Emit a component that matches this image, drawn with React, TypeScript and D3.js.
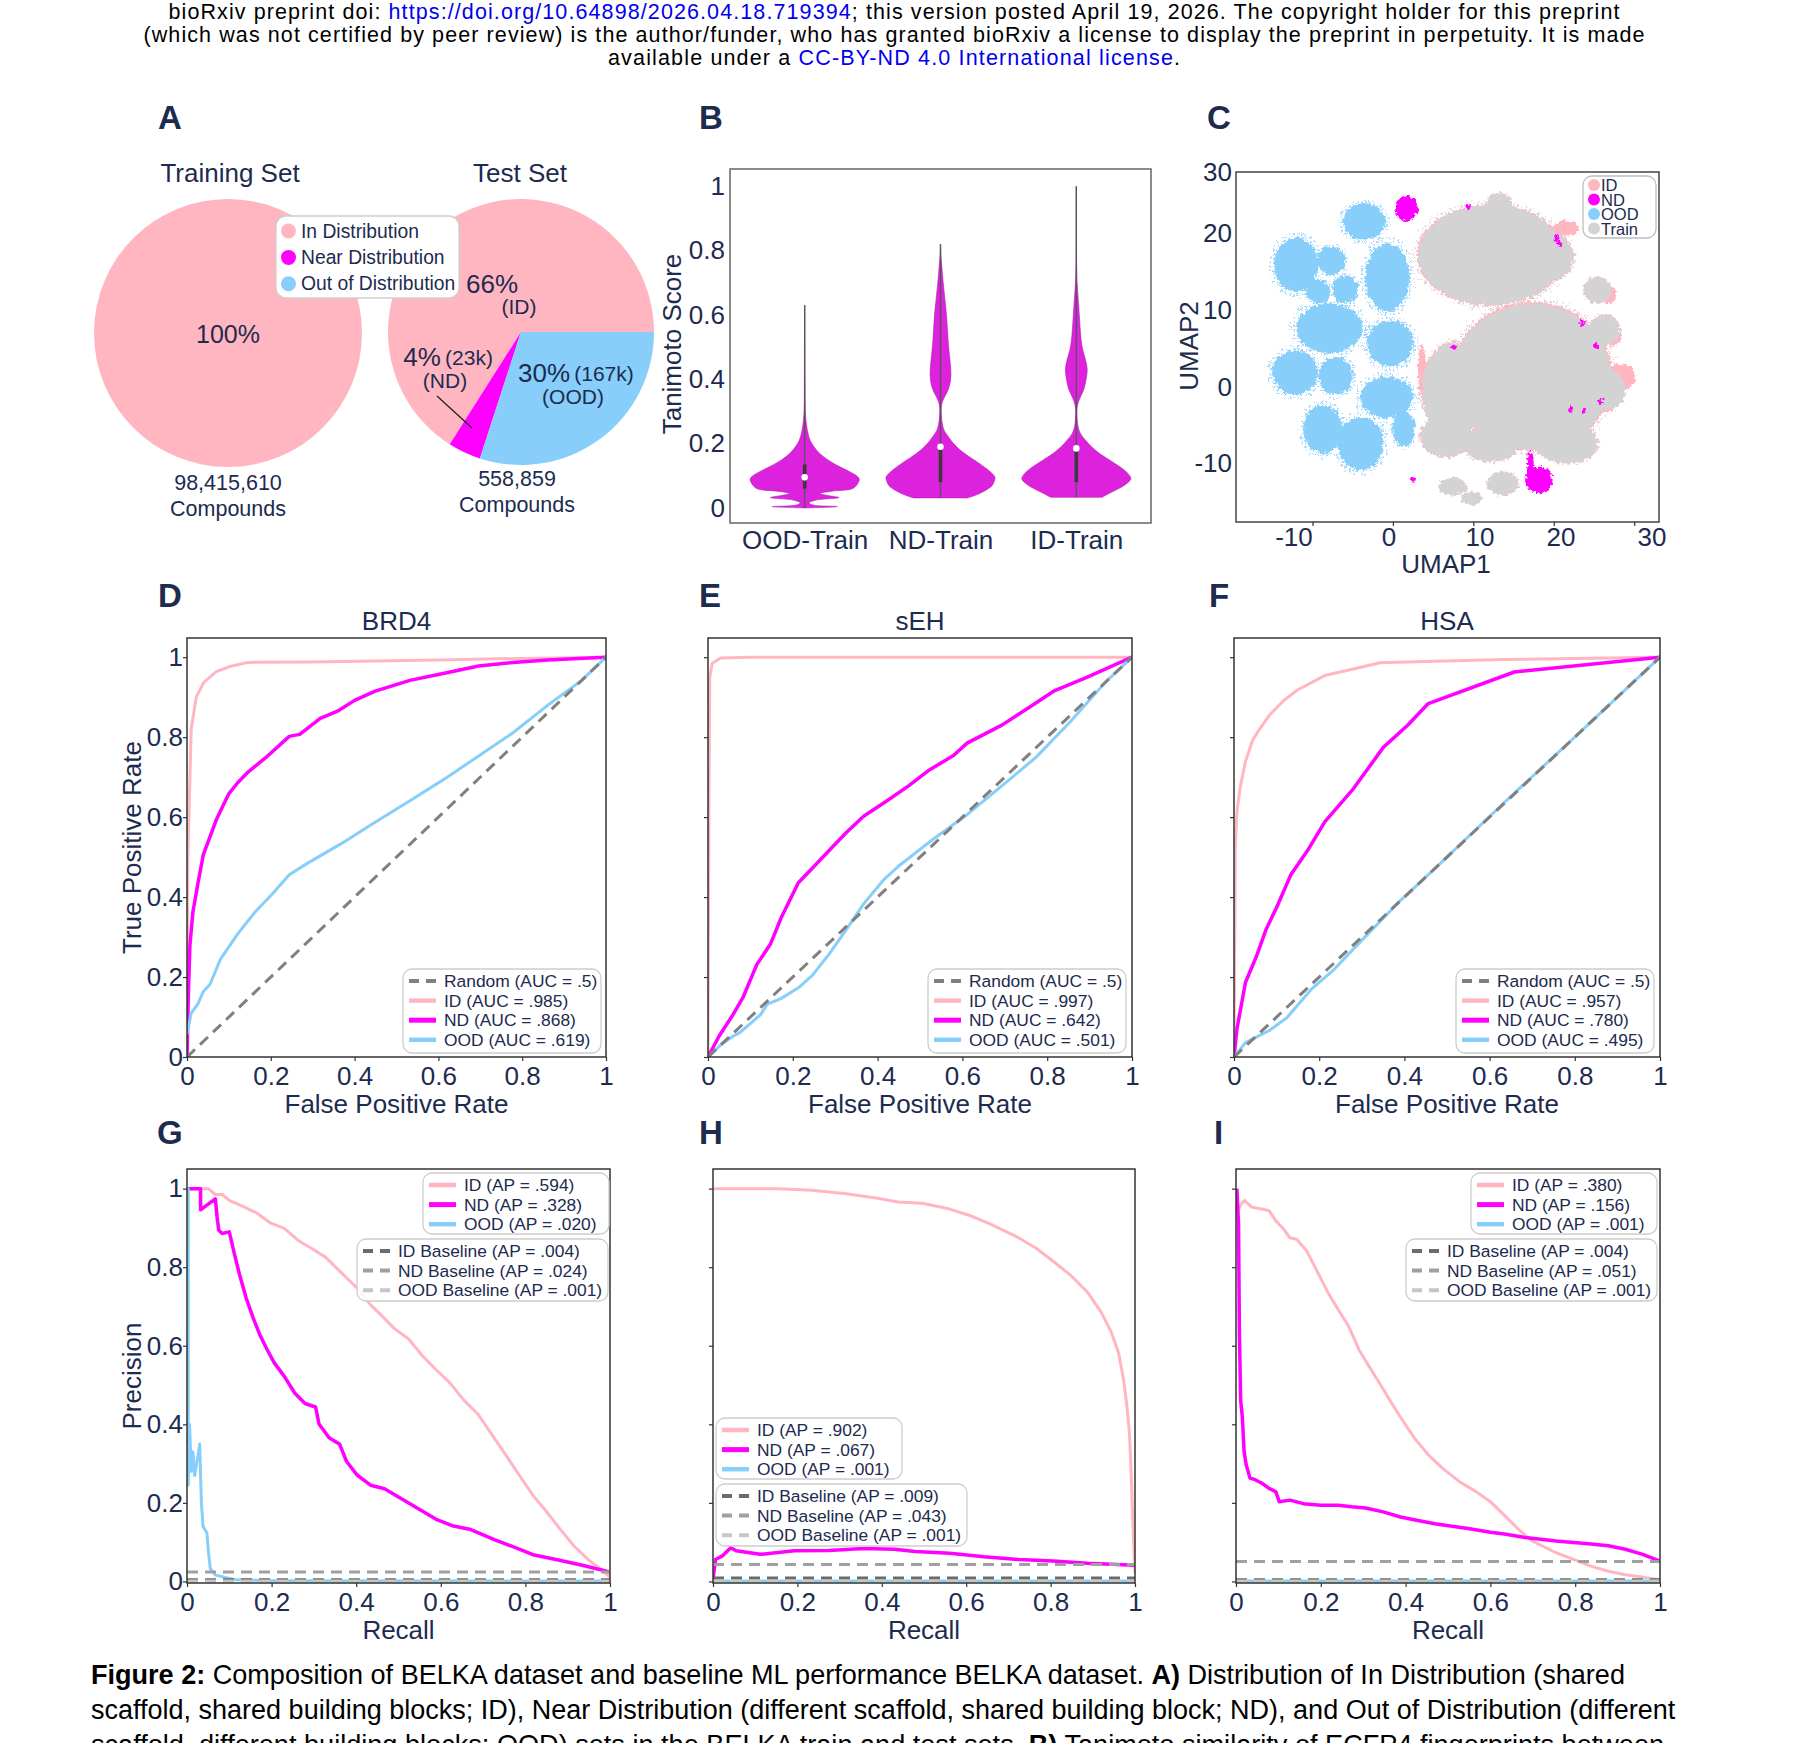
import React, { useEffect, useRef } from 'react';
import * as d3 from 'd3';

type Pt = [number, number];

const WIDTH = 1800;
const HEIGHT = 1743;
const FONT = "'Liberation Sans', Arial, Helvetica, sans-serif";
const NAVY = '#1d2b4f';
const ID_COLOR = '#ffb6c1';
const ND_COLOR = '#ff00ff';
const OOD_COLOR = '#87cefa';
const TRAIN_COLOR = '#d3d3d3';
const VIOLIN_COLOR = '#dc22dc';
const FRAME = '#333333';

// ---------- A: split composition ----------
const splitNames = ['In Distribution', 'Near Distribution', 'Out of Distribution'];
const splitShort = ['(ID)', '(ND)', '(OOD)'];
const splitColors = [ID_COLOR, ND_COLOR, OOD_COLOR];
const trainingShares = [100, 0, 0];
const testShares = [66, 4, 30];
const testCounts = ['', '(23k)', '(167k)'];
const trainingTotal = '98,415,610';
const testTotal = '558,859';

// ---------- B: Tanimoto similarity violins ----------
const violinCategories = ['OOD-Train', 'ND-Train', 'ID-Train'];
// [score, relative density]
const oodTrainDensity: Pt[] = [
  [0.0, 0.05], [0.004, 0.6], [0.009, 0.15], [0.016, 0.08], [0.024, 0.2], [0.032, 0.63],
  [0.038, 0.45], [0.045, 0.28], [0.052, 0.5], [0.06, 0.88], [0.075, 0.97], [0.09, 1.0],
  [0.1, 0.95], [0.115, 0.8], [0.13, 0.62], [0.15, 0.42], [0.17, 0.27], [0.19, 0.17],
  [0.21, 0.1], [0.24, 0.05], [0.27, 0.025], [0.3, 0.012], [0.4, 0.006], [0.63, 0.002],
];
const ndTrainDensity: Pt[] = [
  [0.031, 0.5], [0.04, 0.65], [0.05, 0.78], [0.06, 0.88], [0.07, 0.95], [0.085, 0.99],
  [0.095, 1.0], [0.11, 0.93], [0.125, 0.82], [0.14, 0.7], [0.16, 0.52], [0.18, 0.36],
  [0.2, 0.24], [0.22, 0.15], [0.24, 0.07], [0.26, 0.035], [0.29, 0.015], [0.32, 0.02],
  [0.34, 0.06], [0.36, 0.12], [0.38, 0.165], [0.41, 0.19], [0.44, 0.185], [0.48, 0.16],
  [0.52, 0.14], [0.56, 0.125], [0.6, 0.11], [0.65, 0.08], [0.7, 0.05], [0.75, 0.025],
  [0.78, 0.01], [0.82, 0.002],
];
const idTrainDensity: Pt[] = [
  [0.033, 0.47], [0.045, 0.6], [0.06, 0.78], [0.075, 0.92], [0.09, 1.0], [0.1, 0.98],
  [0.115, 0.9], [0.13, 0.78], [0.15, 0.6], [0.17, 0.42], [0.19, 0.28], [0.21, 0.17],
  [0.23, 0.08], [0.25, 0.035], [0.28, 0.015], [0.31, 0.015], [0.33, 0.04], [0.35, 0.09],
  [0.37, 0.14], [0.4, 0.18], [0.43, 0.2], [0.46, 0.17], [0.49, 0.12], [0.52, 0.09],
  [0.56, 0.07], [0.6, 0.055], [0.65, 0.035], [0.7, 0.015], [0.75, 0.006], [0.85, 0.003],
  [1.0, 0.001],
];
const violinDensities = [oodTrainDensity, ndTrainDensity, idTrainDensity];
const violinMin = [0, 0.031, 0.033];
const violinMax = [0.63, 0.82, 1.0];
const violinQ1 = [0.06, 0.08, 0.08];
const violinQ3 = [0.135, 0.19, 0.185];
const violinMedian = [0.095, 0.19, 0.185];
const violinTicks = [0, 0.2, 0.4, 0.6, 0.8, 1];

// ---------- C: UMAP clusters  [umap1, umap2, spread1, spread2] ----------
const umapOod: number[][] = [
  [-3.6, 21.44, 2.66, 2.38], [-12.04, 15.8, 2.78, 3.55], [-7.67, 16.37, 1.8, 1.82],
  [-9.26, 12.34, 1.5, 1.52], [-5.91, 12.64, 1.63, 1.82], [-0.69, 14.2, 2.78, 4.42],
  [-7.89, 7.57, 4.15, 3.25], [-0.35, 5.62, 2.87, 3.03], [-12.17, 1.8, 2.87, 2.9],
  [-7.11, 1.37, 2.14, 2.47], [-0.78, -1.4, 3.3, 2.69], [-8.74, -5.57, 2.44, 3.12],
  [-4.03, -7.39, 2.87, 3.47], [1.32, -5.52, 1.41, 2.25],
];
const umapTrain: number[][] = [
  [12.16, 17.1, 8.99, 6.5], [13.23, 23.82, 1.5, 1.3], [17.3, 1.28, 9.85, 9.54],
  [7.45, -0.45, 3.85, 6.07], [6.59, -6.52, 3.21, 2.6], [12.16, -7.39, 3.43, 2.38],
  [21.58, -7.39, 3.85, 2.6], [7.45, -13.02, 1.71, 1.08], [13.66, -12.59, 1.93, 1.52],
  [9.8, -14.54, 1.28, 0.87], [26.29, 7.35, 1.93, 1.95], [26.72, -0.45, 2.14, 2.6],
  [25.43, 12.55, 1.71, 1.73], [19.87, 16.89, 2.57, 3.03],
];
const umapId: number[][] = [
  [28.43, 1.28, 1.71, 1.73], [27.15, 6.48, 1.28, 1.3], [26.72, -2.19, 1.28, 1.08],
  [26.72, 11.9, 1.07, 1.08], [21.5, 20.6, 1.6, 1.0], [3.6, 2.0, 0.5, 3.5],
];
const umapNd: number[][] = [
  [1.67, 23.17, 1.41, 1.65], [18.15, -12.15, 1.71, 1.73], [17.08, -9.77, 0.43, 1.3],
];
const umapNdSpecks: Pt[] = [
  [20.29, 19.27], [20.72, 18.62], [23.51, 8.22], [25.22, 5.4], [7.66, 5.18],
  [22.01, -3.05], [25.86, -1.97], [2.52, -12.15], [9.37, 23.39], [23.72, -3.27],
];
const umapXTicks = [-10, 0, 10, 20, 30];
const umapYTicks = [30, 20, 10, 0, -10];
const umapLegend = ['ID', 'ND', 'OOD', 'Train'];

// ---------- D-F: ROC curves [FPR, TPR] ----------
const rateTicks = [0, 0.2, 0.4, 0.6, 0.8, 1];
const randomRoc: Pt[] = [[0, 0], [1, 1]];
const brd4RocId: Pt[] = [
  [0, 0], [0.002, 0.5], [0.01, 0.82], [0.022, 0.9], [0.04, 0.937], [0.07, 0.964], [0.1, 0.976],
  [0.145, 0.987], [0.3, 0.988], [0.6, 0.993], [0.8, 0.997], [1, 1],
];
const brd4RocNd: Pt[] = [
  [0, 0], [0.003, 0.146], [0.007, 0.28], [0.014, 0.362], [0.026, 0.434], [0.039, 0.506],
  [0.055, 0.551], [0.071, 0.596], [0.1, 0.659], [0.121, 0.686], [0.145, 0.712], [0.187, 0.748],
  [0.244, 0.802], [0.269, 0.807], [0.318, 0.847], [0.359, 0.865], [0.4, 0.892], [0.449, 0.915],
  [0.532, 0.942], [0.614, 0.96], [0.696, 0.978], [0.778, 0.987], [0.86, 0.993], [1, 1],
];
const brd4RocOod: Pt[] = [
  [0, 0.057], [0.01, 0.11], [0.026, 0.133], [0.039, 0.164], [0.055, 0.182], [0.08, 0.245],
  [0.121, 0.308], [0.162, 0.362], [0.203, 0.407], [0.244, 0.456], [0.285, 0.483], [0.367, 0.533],
  [0.449, 0.587], [0.532, 0.641], [0.614, 0.695], [0.696, 0.753], [0.778, 0.811], [0.86, 0.879],
  [0.942, 0.942], [1, 1],
];
const sehRocId: Pt[] = [
  [0, 0], [0.002, 0.6], [0.004, 0.95], [0.01, 0.985], [0.03, 0.998], [0.1, 1], [1, 1],
];
const sehRocNd: Pt[] = [
  [0, 0], [0.026, 0.052], [0.059, 0.106], [0.083, 0.15], [0.115, 0.231], [0.148, 0.284],
  [0.172, 0.347], [0.213, 0.436], [0.246, 0.472], [0.294, 0.526], [0.327, 0.562], [0.367, 0.602],
  [0.424, 0.642], [0.473, 0.678], [0.522, 0.718], [0.579, 0.754], [0.611, 0.785], [0.693, 0.83],
  [0.758, 0.875], [0.815, 0.915], [0.896, 0.951], [1, 1],
];
const sehRocOod: Pt[] = [
  [0, 0], [0.034, 0.034], [0.059, 0.052], [0.075, 0.061], [0.099, 0.083], [0.124, 0.106],
  [0.14, 0.132], [0.172, 0.146], [0.213, 0.173], [0.246, 0.204], [0.286, 0.258], [0.327, 0.32],
  [0.367, 0.383], [0.416, 0.445], [0.449, 0.477], [0.53, 0.544], [0.611, 0.606], [0.693, 0.678],
  [0.774, 0.75], [0.855, 0.839], [0.937, 0.937], [1, 1],
];
const hsaRocId: Pt[] = [
  [0, 0], [0.002, 0.33], [0.003, 0.526], [0.007, 0.615], [0.015, 0.677], [0.027, 0.74],
  [0.044, 0.793], [0.06, 0.82], [0.084, 0.856], [0.116, 0.891], [0.149, 0.918], [0.213, 0.954],
  [0.27, 0.968], [0.343, 0.986], [0.472, 0.99], [0.634, 0.994], [1, 1],
];
const hsaRocNd: Pt[] = [
  [0, 0], [0.007, 0.071], [0.027, 0.187], [0.052, 0.25], [0.076, 0.321], [0.1, 0.374],
  [0.133, 0.455], [0.173, 0.517], [0.213, 0.588], [0.278, 0.668], [0.351, 0.775], [0.407, 0.829],
  [0.456, 0.884], [0.658, 0.963], [1, 1],
];
const hsaRocOod: Pt[] = [
  [0, 0], [0.027, 0.036], [0.084, 0.067], [0.124, 0.098], [0.181, 0.169], [0.23, 0.214],
  [0.31, 0.303], [0.391, 0.392], [0.472, 0.472], [0.634, 0.636], [0.8, 0.8], [1, 1],
];
const brd4Auc = ['.5', '.985', '.868', '.619'];
const sehAuc = ['.5', '.997', '.642', '.501'];
const hsaAuc = ['.5', '.957', '.780', '.495'];

// ---------- G-I: precision-recall curves [recall, precision] ----------
const brd4PrId: Pt[] = [
  [0, 1], [0.05, 1], [0.067, 0.985], [0.083, 0.985], [0.1, 0.97], [0.132, 0.955], [0.165, 0.938],
  [0.198, 0.912], [0.23, 0.899], [0.263, 0.868], [0.296, 0.847], [0.328, 0.825], [0.361, 0.79],
  [0.402, 0.747], [0.434, 0.704], [0.459, 0.678], [0.491, 0.643], [0.524, 0.617], [0.557, 0.574],
  [0.589, 0.539], [0.622, 0.505], [0.655, 0.461], [0.687, 0.427], [0.72, 0.375], [0.753, 0.323],
  [0.785, 0.271], [0.818, 0.219], [0.851, 0.176], [0.883, 0.132], [0.916, 0.089], [0.949, 0.055],
  [0.981, 0.029], [1, 0.011],
];
const brd4PrNd: Pt[] = [
  [0, 1], [0.032, 1], [0.032, 0.946], [0.067, 0.974], [0.071, 0.929], [0.075, 0.894],
  [0.083, 0.886], [0.1, 0.89], [0.112, 0.834], [0.124, 0.782], [0.14, 0.721], [0.157, 0.669],
  [0.173, 0.626], [0.189, 0.591], [0.206, 0.557], [0.23, 0.522], [0.255, 0.479], [0.279, 0.453],
  [0.304, 0.444], [0.312, 0.401], [0.336, 0.366], [0.361, 0.349], [0.377, 0.306], [0.402, 0.271],
  [0.434, 0.245], [0.467, 0.236], [0.508, 0.21], [0.549, 0.184], [0.589, 0.158], [0.63, 0.141],
  [0.671, 0.132], [0.728, 0.106], [0.769, 0.089], [0.818, 0.068], [0.875, 0.055], [0.932, 0.042],
  [1, 0.024],
];
const brd4PrOod: Pt[] = [
  [0, 1], [0.003, 1], [0.003, 0.245], [0.006, 0.4], [0.01, 0.28], [0.014, 0.33], [0.018, 0.27],
  [0.026, 0.32], [0.03, 0.35], [0.034, 0.2], [0.038, 0.14], [0.047, 0.124], [0.051, 0.072],
  [0.055, 0.033], [0.067, 0.016], [0.116, 0.004], [0.2, 0.002], [1, 0.001],
];
const sehPrId: Pt[] = [
  [0, 1], [0.153, 1], [0.234, 0.996], [0.316, 0.987], [0.398, 0.974], [0.438, 0.966],
  [0.496, 0.963], [0.561, 0.948], [0.61, 0.931], [0.659, 0.909], [0.724, 0.875], [0.765, 0.849],
  [0.806, 0.815], [0.847, 0.78], [0.887, 0.737], [0.92, 0.685], [0.944, 0.634], [0.961, 0.582],
  [0.973, 0.513], [0.981, 0.444], [0.987, 0.375], [0.992, 0.246], [0.996, 0.116], [1, 0.02],
];
const sehPrNd: Pt[] = [
  [0, 0.004], [0.006, 0.056], [0.022, 0.065], [0.042, 0.086], [0.055, 0.078], [0.112, 0.069],
  [0.193, 0.078], [0.275, 0.079], [0.357, 0.084], [0.43, 0.082], [0.479, 0.076], [0.561, 0.072],
  [0.642, 0.063], [0.724, 0.056], [0.806, 0.052], [0.887, 0.046], [1, 0.041],
];
const sehPrOod: Pt[] = [[0, 0.001], [1, 0.001]];
const hsaPrId: Pt[] = [
  [0, 0.93], [0.002, 0.935], [0.012, 0.961], [0.02, 0.97], [0.037, 0.953], [0.061, 0.948],
  [0.078, 0.944], [0.094, 0.918], [0.11, 0.9], [0.127, 0.875], [0.143, 0.871], [0.167, 0.841],
  [0.192, 0.788], [0.216, 0.737], [0.241, 0.692], [0.265, 0.651], [0.29, 0.59], [0.314, 0.547],
  [0.339, 0.504], [0.363, 0.461], [0.388, 0.418], [0.42, 0.366], [0.453, 0.323], [0.486, 0.289],
  [0.527, 0.254], [0.567, 0.228], [0.6, 0.203], [0.633, 0.168], [0.665, 0.134], [0.698, 0.103],
  [0.755, 0.073], [0.796, 0.056], [0.837, 0.039], [0.878, 0.026], [0.918, 0.017], [0.959, 0.011],
  [1, 0.004],
];
const hsaPrNd: Pt[] = [
  [0.002, 1], [0.006, 0.91], [0.008, 0.634], [0.011, 0.461], [0.015, 0.418], [0.019, 0.332],
  [0.024, 0.297], [0.033, 0.263], [0.045, 0.259], [0.061, 0.25], [0.078, 0.237], [0.094, 0.228],
  [0.102, 0.203], [0.127, 0.207], [0.159, 0.198], [0.2, 0.194], [0.241, 0.194], [0.273, 0.19],
  [0.306, 0.187], [0.347, 0.177], [0.388, 0.164], [0.429, 0.155], [0.469, 0.147], [0.551, 0.134],
  [0.6, 0.125], [0.633, 0.121], [0.682, 0.112], [0.755, 0.103], [0.837, 0.095], [0.878, 0.091],
  [0.918, 0.082], [0.959, 0.069], [1, 0.052],
];
const hsaPrOod: Pt[] = [[0, 0.001], [1, 0.001]];
const brd4Ap = ['.594', '.328', '.020'];
const sehAp = ['.902', '.067', '.001'];
const hsaAp = ['.380', '.156', '.001'];
const brd4Baselines = [0.004, 0.024, 0.001];
const sehBaselines = [0.009, 0.043, 0.001];
const hsaBaselines = [0.004, 0.051, 0.001];
const brd4BaselineLabels = ['.004', '.024', '.001'];
const sehBaselineLabels = ['.009', '.043', '.001'];
const hsaBaselineLabels = ['.004', '.051', '.001'];
const baselineColors = ['#6b6b6b', '#a0a0a0', '#c6c6c6'];

type Sel = d3.Selection<any, unknown, null, undefined>;

function addText(sel: Sel, x: number, y: number, str: string, size: number, anchor = 'middle', fill = NAVY) {
  return sel
    .append('text')
    .attr('x', x)
    .attr('y', y)
    .attr('font-family', FONT)
    .attr('font-size', size)
    .attr('fill', fill)
    .attr('text-anchor', anchor)
    .attr('dominant-baseline', 'central')
    .text(str);
}

// grow the font until the line is `target` wide (capped at maxSize), then spread the rest
function fitWidth(t: Sel, target: number, maxSize = 100) {
  const node = t.node() as SVGTextElement;
  const len = node.getComputedTextLength();
  if (len <= 0) return;
  const size = Math.min(maxSize, (+t.attr('font-size') * target) / len);
  t.attr('font-size', size);
  if (size === maxSize) t.attr('textLength', target).attr('lengthAdjust', 'spacing');
}

function styleAxis(g: Sel, size = 26) {
  g.attr('font-family', FONT).attr('font-size', size);
  g.select('.domain').remove();
  g.selectAll('.tick line').attr('stroke', FRAME).attr('stroke-width', 1.2);
  g.selectAll('.tick text').attr('fill', NAVY);
}

const fmtRate = (v: number) => (v === 0 ? '0' : v === 1 ? '1' : d3.format('.1f')(v));

interface LegendEntry {
  label: string;
  color: string;
  width: number;
  dash?: string;
}

function drawLegend(svg: Sel, x: number, y: number, w: number, h: number, entries: LegendEntry[]) {
  const lg = svg.append('g').attr('transform', `translate(${x},${y})`);
  lg.append('rect')
    .attr('width', w)
    .attr('height', h)
    .attr('rx', 9)
    .attr('fill', '#fff')
    .attr('fill-opacity', 0.85)
    .attr('stroke', '#cdcdcd')
    .attr('stroke-width', 1.3);
  entries.forEach((e, i) => {
    const cy = 12 + i * 19.6;
    lg.append('line')
      .attr('x1', 6)
      .attr('x2', 33)
      .attr('y1', cy)
      .attr('y2', cy)
      .attr('stroke', e.color)
      .attr('stroke-width', e.width)
      .attr('stroke-dasharray', e.dash ?? null);
    addText(lg, 41, cy, e.label, 17.4, 'start');
  });
}

interface CurveSpec {
  data: Pt[];
  color: string;
  width: number;
  dash?: string;
}

interface LegendSpec {
  x: number;
  y: number;
  w: number;
  h: number;
  entries: LegendEntry[];
}

interface PanelSpec {
  id: string;
  x0: number;
  x1: number;
  y0: number;
  y1: number;
  yDomain: [number, number];
  title?: string;
  xTitle: string;
  yTitle?: string;
  curves: CurveSpec[];
  baselines?: number[];
  legends: LegendSpec[];
}

function drawCurvePanel(svg: Sel, p: PanelSpec) {
  const x = d3.scaleLinear().domain([0, 1]).range([p.x0, p.x1]);
  const y = d3.scaleLinear().domain(p.yDomain).range([p.y1, p.y0]);

  svg.append('clipPath').attr('id', `clip-${p.id}`)
    .append('rect').attr('x', p.x0).attr('y', p.y0).attr('width', p.x1 - p.x0).attr('height', p.y1 - p.y0);

  const plot = svg.append('g').attr('clip-path', `url(#clip-${p.id})`);
  const line = d3.line<Pt>().x((d) => x(d[0])).y((d) => y(d[1]));

  p.curves.forEach((c) => {
    plot.append('path')
      .datum(c.data)
      .attr('fill', 'none')
      .attr('stroke', c.color)
      .attr('stroke-width', c.width)
      .attr('stroke-linejoin', 'round')
      .attr('stroke-dasharray', c.dash ?? null)
      .attr('d', line);
  });

  (p.baselines ?? []).forEach((b, i) => {
    plot.append('path')
      .datum([[0, b], [1, b]] as Pt[])
      .attr('fill', 'none')
      .attr('stroke', baselineColors[i])
      .attr('stroke-width', 3)
      .attr('stroke-dasharray', '11,7')
      .attr('d', line);
  });

  svg.append('rect')
    .attr('x', p.x0).attr('y', p.y0).attr('width', p.x1 - p.x0).attr('height', p.y1 - p.y0)
    .attr('fill', 'none').attr('stroke', FRAME).attr('stroke-width', 1.5);

  const gx = svg.append('g').attr('transform', `translate(0,${p.y1})`)
    .call(d3.axisBottom(x).tickValues(rateTicks).tickFormat((d) => fmtRate(+d)).tickSizeInner(4).tickSizeOuter(0).tickPadding(6));
  styleAxis(gx);

  const gy = svg.append('g').attr('transform', `translate(${p.x0},0)`)
    .call(d3.axisLeft(y).tickValues(rateTicks).tickFormat((d) => fmtRate(+d)).tickSizeInner(4).tickSizeOuter(0).tickPadding(0));
  styleAxis(gy);
  // only the left-most panels of each row carry y tick labels
  if (!p.yTitle) gy.selectAll('.tick text').remove();

  const cx = (p.x0 + p.x1) / 2;
  if (p.title) addText(svg, cx, p.y0 - 17, p.title, 26);
  addText(svg, cx, p.y1 + 47, p.xTitle, 26);
  if (p.yTitle) {
    addText(svg, 0, 0, p.yTitle, 26)
      .attr('transform', `translate(132,${(p.y0 + p.y1) / 2}) rotate(-90)`);
  }

  p.legends.forEach((l) => drawLegend(svg, l.x, l.y, l.w, l.h, l.entries));
}

function rocPanel(id: string, x0: number, x1: number, title: string, yTitle: string | undefined,
  curves: Pt[][], auc: string[], legendX: number): PanelSpec {
  const [idC, ndC, oodC] = curves;
  return {
    id, x0, x1, y0: 638, y1: 1057, yDomain: [0, 1.048], title, xTitle: 'False Positive Rate', yTitle,
    curves: [
      { data: idC, color: ID_COLOR, width: 3 },
      { data: ndC, color: ND_COLOR, width: 3.5 },
      { data: oodC, color: OOD_COLOR, width: 3 },
      { data: randomRoc, color: '#808080', width: 3, dash: '11,7' },
    ],
    legends: [{
      x: legendX, y: 969, w: 198, h: 84,
      entries: [
        { label: `Random (AUC = ${auc[0]})`, color: '#808080', width: 4, dash: '10,7' },
        { label: `ID (AUC = ${auc[1]})`, color: ID_COLOR, width: 4.5 },
        { label: `ND (AUC = ${auc[2]})`, color: ND_COLOR, width: 5 },
        { label: `OOD (AUC = ${auc[3]})`, color: OOD_COLOR, width: 4.5 },
      ],
    }],
  };
}

function prPanel(id: string, x0: number, x1: number, yTitle: string | undefined, curves: Pt[][],
  ap: string[], baselines: number[], baseLabels: string[], top: [number, number], bottom: [number, number]): PanelSpec {
  const [idC, ndC, oodC] = curves;
  return {
    id, x0, x1, y0: 1169, y1: 1583, yDomain: [-0.004, 1.05], xTitle: 'Recall', yTitle,
    curves: [
      { data: idC, color: ID_COLOR, width: 3 },
      { data: ndC, color: ND_COLOR, width: 3.5 },
      { data: oodC, color: OOD_COLOR, width: 3 },
    ],
    baselines,
    legends: [
      {
        x: top[0], y: top[1], w: 186, h: 61,
        entries: [
          { label: `ID (AP = ${ap[0]})`, color: ID_COLOR, width: 4.5 },
          { label: `ND (AP = ${ap[1]})`, color: ND_COLOR, width: 5 },
          { label: `OOD (AP = ${ap[2]})`, color: OOD_COLOR, width: 4.5 },
        ],
      },
      {
        x: bottom[0], y: bottom[1], w: 251, h: 62,
        entries: baselineColors.map((c, i) => ({
          label: `${['ID', 'ND', 'OOD'][i]} Baseline (AP = ${baseLabels[i]})`,
          color: c,
          width: 4,
          dash: '10,7',
        })),
      },
    ],
  };
}

function drawHeader(svg: Sel) {
  const lines: { parts: [string, boolean][]; y: number; len: number }[] = [
    {
      parts: [
        ['bioRxiv preprint doi: ', false],
        ['https://doi.org/10.64898/2026.04.18.719394', true],
        ['; this version posted April 19, 2026. The copyright holder for this preprint', false],
      ],
      y: 19, len: 1451,
    },
    {
      parts: [['(which was not certified by peer review) is the author/funder, who has granted bioRxiv a license to display the preprint in perpetuity. It is made', false]],
      y: 42, len: 1501,
    },
    {
      parts: [['available under a ', false], ['CC-BY-ND 4.0 International license', true], ['.', false]],
      y: 65, len: 572,
    },
  ];
  lines.forEach((l) => {
    const t = svg.append('text')
      .attr('x', 894).attr('y', l.y)
      .attr('text-anchor', 'middle')
      .attr('font-family', FONT).attr('font-size', 20);
    l.parts.forEach(([s, link]) => t.append('tspan').attr('fill', link ? '#0000ee' : '#000').text(s));
    fitWidth(t, l.len, 21.5);
  });
}

function drawCaption(svg: Sel) {
  const lines: { parts: [string, boolean][]; y: number; len: number }[] = [
    {
      parts: [
        ['Figure 2:', true],
        [' Composition of BELKA dataset and baseline ML performance BELKA dataset. ', false],
        ['A)', true],
        [' Distribution of In Distribution (shared', false],
      ],
      y: 1684, len: 1535,
    },
    {
      parts: [['scaffold, shared building blocks; ID), Near Distribution (different scaffold, shared building block; ND), and Out of Distribution (different', false]],
      y: 1719, len: 1585,
    },
    {
      parts: [
        ['scaffold, different building blocks; OOD) sets in the BELKA train and test sets. ', false],
        ['B)', true],
        [' Tanimoto similarity of ECFP4 fingerprints between', false],
      ],
      y: 1754, len: 1574,
    },
  ];
  lines.forEach((l) => {
    const t = svg.append('text')
      .attr('x', 91).attr('y', l.y)
      .attr('font-family', FONT).attr('font-size', 24).attr('fill', '#000');
    l.parts.forEach(([s, bold]) => t.append('tspan').attr('font-weight', bold ? 'bold' : 'normal').text(s));
    fitWidth(t, l.len);
  });
}

function drawPies(svg: Sel) {
  const pie = d3.pie<number>().sort(null).startAngle(Math.PI / 2).endAngle(Math.PI / 2 - 2 * Math.PI);
  const specs = [
    { cx: 228, cy: 333, r: 134, values: trainingShares },
    { cx: 521, cy: 332, r: 133, values: testShares },
  ];
  specs.forEach((s) => {
    const arc = d3.arc<d3.PieArcDatum<number>>().innerRadius(0).outerRadius(s.r);
    const g = svg.append('g').attr('transform', `translate(${s.cx},${s.cy})`);
    g.selectAll('path')
      .data(pie(s.values).filter((d) => d.value > 0))
      .enter()
      .append('path')
      .attr('d', arc)
      .attr('fill', (d) => splitColors[d.index]);
  });

  addText(svg, 230, 173, 'Training Set', 26);
  addText(svg, 520, 173, 'Test Set', 26);
  addText(svg, 228, 334, `${trainingShares[0]}%`, 25);

  // test-set slice annotations
  addText(svg, 492, 284, `${testShares[0]}%`, 26);
  addText(svg, 519, 306, splitShort[0], 21);
  addText(svg, 422, 357, `${testShares[1]}%`, 26);
  addText(svg, 469, 357, testCounts[1], 21);
  addText(svg, 445, 380, splitShort[1], 21);
  addText(svg, 544, 373, `${testShares[2]}%`, 26);
  addText(svg, 604, 373, testCounts[2], 21);
  addText(svg, 573, 396, splitShort[2], 21);
  svg.append('line').attr('x1', 437).attr('y1', 396).attr('x2', 472).attr('y2', 428)
    .attr('stroke', '#1a1a1a').attr('stroke-width', 1.2);

  addText(svg, 228, 483, trainingTotal, 21.5);
  addText(svg, 228, 509, 'Compounds', 21.5);
  addText(svg, 517, 479, testTotal, 21.5);
  addText(svg, 517, 505, 'Compounds', 21.5);

  const lg = svg.append('g').attr('transform', 'translate(276,216)');
  lg.append('rect').attr('width', 183).attr('height', 82).attr('rx', 10)
    .attr('fill', '#fff').attr('stroke', '#cfcfcf').attr('stroke-width', 1.3);
  splitNames.forEach((n, i) => {
    const cy = 15 + i * 26.4;
    lg.append('circle').attr('cx', 12.5).attr('cy', cy).attr('r', 7.5).attr('fill', splitColors[i]);
    addText(lg, 25, cy, n, 19.3, 'start');
  });
}

function drawViolins(svg: Sel) {
  const x0 = 730, x1 = 1151, y0 = 169, y1 = 523;
  const x = d3.scalePoint<string>().domain(violinCategories).range([x0, x1]).padding(0.55);
  const y = d3.scaleLinear().domain([-0.047, 1.054]).range([y1, y0]);
  const w = d3.scaleLinear().domain([0, 1]).range([0, 54.5]);

  violinCategories.forEach((cat, i) => {
    const cx = x(cat) as number;
    const area = d3.area<Pt>()
      .y((d) => y(d[0]))
      .x0((d) => cx - w(d[1]))
      .x1((d) => cx + w(d[1]))
      .curve(d3.curveCatmullRom.alpha(0.5));
    svg.append('path').datum(violinDensities[i]).attr('d', area)
      .attr('fill', VIOLIN_COLOR).attr('stroke', '#b01cb0').attr('stroke-width', 0.6);
    svg.append('line').attr('x1', cx).attr('x2', cx)
      .attr('y1', y(violinMin[i])).attr('y2', y(violinMax[i]))
      .attr('stroke', '#555').attr('stroke-width', 1.3);
    svg.append('line').attr('x1', cx).attr('x2', cx)
      .attr('y1', y(violinQ1[i])).attr('y2', y(violinQ3[i]))
      .attr('stroke', '#3a3a3a').attr('stroke-width', 3.6);
    svg.append('circle').attr('cx', cx).attr('cy', y(violinMedian[i])).attr('r', 3.3).attr('fill', '#fff');
  });

  svg.append('rect').attr('x', x0).attr('y', y0).attr('width', x1 - x0).attr('height', y1 - y0)
    .attr('fill', 'none').attr('stroke', '#666').attr('stroke-width', 1.5);

  const gy = svg.append('g').attr('transform', `translate(${x0},0)`)
    .call(d3.axisLeft(y).tickValues(violinTicks).tickFormat((d) => fmtRate(+d)).tickSize(0).tickPadding(5));
  styleAxis(gy);
  const gx = svg.append('g').attr('transform', `translate(0,${y1})`)
    .call(d3.axisBottom(x).tickSize(0).tickPadding(8));
  styleAxis(gx);

  addText(svg, 0, 0, 'Tanimoto Score', 26).attr('transform', 'translate(672,344) rotate(-90)');
}

function drawUmap(svg: Sel) {
  const x0 = 1236, x1 = 1659, y0 = 172, y1 = 522;
  const x = d3.scaleLinear().domain([-10, 30]).range([1312.5, 1634.2]);
  const y = d3.scaleLinear().domain([20, -10]).range([232.7, 463.4]);
  // tick labels sit slightly off their tick marks
  const labelX = d3.scaleLinear().domain(umapXTicks).range([1294, 1389, 1480, 1561, 1652]);
  const kx = x(1) - x(0);
  const ky = y(0) - y(1);

  const defs = svg.append('defs');
  const filter = defs.append('filter').attr('id', 'grain')
    .attr('x', '-5%').attr('y', '-5%').attr('width', '110%').attr('height', '110%');
  filter.append('feTurbulence').attr('type', 'fractalNoise').attr('baseFrequency', 0.3)
    .attr('numOctaves', 2).attr('seed', 7).attr('result', 'noise');
  filter.append('feDisplacementMap').attr('in', 'SourceGraphic').attr('in2', 'noise')
    .attr('scale', 7).attr('xChannelSelector', 'R').attr('yChannelSelector', 'G');

  const dotPattern = (pid: string, color: string, step: number, r: number) => {
    const p = defs.append('pattern').attr('id', pid).attr('width', step).attr('height', step)
      .attr('patternUnits', 'userSpaceOnUse');
    p.append('circle').attr('cx', step / 2).attr('cy', step / 2).attr('r', r).attr('fill', color);
  };
  dotPattern('speck-ood', OOD_COLOR, 4, 0.9);
  dotPattern('speck-train', '#c9c9c9', 4, 0.9);
  dotPattern('speck-id', ID_COLOR, 6, 0.8);

  svg.append('clipPath').attr('id', 'clip-umap')
    .append('rect').attr('x', x0).attr('y', y0).attr('width', x1 - x0).attr('height', y1 - y0);
  const clip = svg.append('g').attr('clip-path', 'url(#clip-umap)');
  const cloud = clip.append('g').attr('filter', 'url(#grain)');

  const blobs = (data: number[][], fill: string, scale: number) => {
    cloud.append('g').selectAll('ellipse').data(data).enter().append('ellipse')
      .attr('cx', (d) => x(d[0]))
      .attr('cy', (d) => y(d[1]))
      .attr('rx', (d) => d[2] * kx * scale)
      .attr('ry', (d) => d[3] * ky * scale)
      .attr('fill', fill);
  };

  // sparse fringe points around each cluster
  blobs(umapOod, 'url(#speck-ood)', 1.22);
  blobs(umapTrain, 'url(#speck-id)', 1.12);
  blobs(umapTrain, 'url(#speck-train)', 1.07);
  // ID points show just outside the training cloud
  blobs(umapId, ID_COLOR, 1.0);
  blobs(umapTrain, ID_COLOR, 1.015);
  blobs(umapTrain, TRAIN_COLOR, 0.995);
  blobs(umapOod, OOD_COLOR, 0.99);
  blobs(umapNd, ND_COLOR, 1.0);
  cloud.append('g').selectAll('circle').data(umapNdSpecks).enter().append('circle')
    .attr('cx', (d) => x(d[0])).attr('cy', (d) => y(d[1])).attr('r', 2.6).attr('fill', ND_COLOR);

  svg.append('rect').attr('x', x0).attr('y', y0).attr('width', x1 - x0).attr('height', y1 - y0)
    .attr('fill', 'none').attr('stroke', '#444').attr('stroke-width', 1.5);

  const gx = svg.append('g').attr('transform', `translate(0,${y1})`)
    .call(d3.axisBottom(x).tickValues(umapXTicks).tickSizeInner(4).tickSizeOuter(0));
  styleAxis(gx);
  gx.selectAll('.tick text').remove();
  umapXTicks.forEach((v) => addText(svg, labelX(v), 537, `${v}`, 26));
  umapYTicks.forEach((v) => addText(svg, 1232, Math.max(y(v), y0), `${v}`, 26, 'end'));

  addText(svg, 1446, 564, 'UMAP1', 26);
  addText(svg, 0, 0, 'UMAP2', 26).attr('transform', 'translate(1189,346) rotate(-90)');

  const lg = svg.append('g').attr('transform', 'translate(1583,176)');
  lg.append('rect').attr('width', 73).attr('height', 62).attr('rx', 9)
    .attr('fill', '#fff').attr('fill-opacity', 0.85).attr('stroke', '#bdbdbd').attr('stroke-width', 1.3);
  const legendColors = [ID_COLOR, ND_COLOR, OOD_COLOR, TRAIN_COLOR];
  umapLegend.forEach((n, i) => {
    const cy = 9 + i * 14.5;
    lg.append('circle').attr('cx', 11).attr('cy', cy).attr('r', 6).attr('fill', legendColors[i]);
    addText(lg, 18, cy, n, 16.5, 'start');
  });
}

function drawPanelLetters(svg: Sel) {
  const letters: [string, number, number][] = [
    ['A', 158, 129], ['B', 699, 129], ['C', 1207, 129],
    ['D', 158, 607], ['E', 699, 607], ['F', 1209, 607],
    ['G', 157, 1144], ['H', 699, 1144], ['I', 1214, 1144],
  ];
  letters.forEach(([l, x, y]) => {
    svg.append('text').attr('x', x).attr('y', y).attr('font-family', FONT)
      .attr('font-size', 33).attr('font-weight', 'bold').attr('fill', NAVY).text(l);
  });
}

export default function App() {
  const svgRef = useRef<SVGSVGElement>(null);

  useEffect(() => {
    if (!svgRef.current) return;
    const svg = d3.select(svgRef.current) as unknown as Sel;
    svg.selectAll('*').remove();
    svg.append('rect').attr('width', WIDTH).attr('height', HEIGHT).attr('fill', '#fff');

    drawHeader(svg);
    drawPanelLetters(svg);
    drawPies(svg);
    drawViolins(svg);
    drawUmap(svg);

    drawCurvePanel(svg, rocPanel('d', 187, 606, 'BRD4', 'True Positive Rate', [brd4RocId, brd4RocNd, brd4RocOod], brd4Auc, 403));
    drawCurvePanel(svg, rocPanel('e', 708, 1132, 'sEH', undefined, [sehRocId, sehRocNd, sehRocOod], sehAuc, 928));
    drawCurvePanel(svg, rocPanel('f', 1234, 1660, 'HSA', undefined, [hsaRocId, hsaRocNd, hsaRocOod], hsaAuc, 1456));

    drawCurvePanel(svg, prPanel('g', 187, 610, 'Precision', [brd4PrId, brd4PrNd, brd4PrOod], brd4Ap,
      brd4Baselines, brd4BaselineLabels, [423, 1173], [357, 1239]));
    drawCurvePanel(svg, prPanel('h', 713, 1135, undefined, [sehPrId, sehPrNd, sehPrOod], sehAp,
      sehBaselines, sehBaselineLabels, [716, 1418], [716, 1484]));
    drawCurvePanel(svg, prPanel('i', 1236, 1660, undefined, [hsaPrId, hsaPrNd, hsaPrOod], hsaAp,
      hsaBaselines, hsaBaselineLabels, [1471, 1173], [1406, 1239]));

    drawCaption(svg);
  }, []);

  return (
    <svg
      ref={svgRef}
      width={WIDTH}
      height={HEIGHT}
      style={{ position: 'absolute', left: 0, top: 0, display: 'block' }}
    />
  );
}
